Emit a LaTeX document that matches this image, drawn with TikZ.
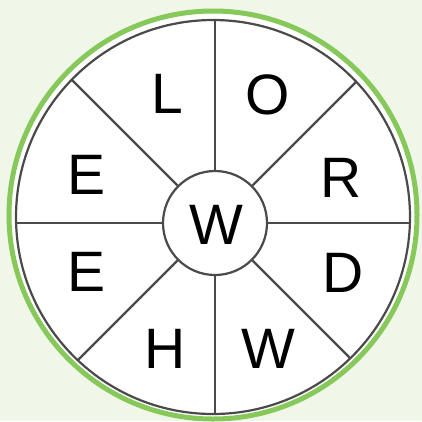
\documentclass[tikz,border=0pt]{standalone}
\usepackage{fontspec}
\setmainfont{Liberation Sans}
\usetikzlibrary{calc}
\definecolor{bgc}{HTML}{F0F7E9}
\definecolor{ringc}{HTML}{86C95A}
\definecolor{linec}{HTML}{4A4A4A}
\begin{document}
\begin{tikzpicture}[x=1pt,y=-1pt,
  letter/.style={font=\fontsize{57}{57}\selectfont, text=black, inner sep=0pt, anchor=center},
  seg/.style={draw=linec, line width=2.2pt}]
\useasboundingbox (0,0) rectangle (422,421);
\fill[bgc] (0,0) rectangle (422,421);
\fill[white, draw=ringc, line width=5pt] (213,215) circle (204);
\draw[linec, line width=2.2pt] (213,217) circle (197);
\node[draw=linec, line width=2.2pt, circle, minimum size=104pt, inner sep=0pt, fill=white] (hub) at (215,223) {};
\node[letter] (w0) at (216,225) {W};
\foreach \a in {0,45,...,315} {
  \coordinate (o\a) at ($(215,223)+(-\a:215)$);
}
\begin{scope}
  \clip (213,217) circle (197);
  \foreach \a in {0,45,...,315} {
    \draw[seg] (hub.\a) -- (o\a);
  }
\end{scope}
\node[letter] (l1) at (167,94) {L};
\node[letter] (l2) at (268,95) {O};
\node[letter] (l3) at (341,178) {R};
\node[letter] (l4) at (343,273) {D};
\node[letter] (l5) at (268,349) {W};
\node[letter] (l6) at (165,349) {H};
\node[letter] (l7) at (87,272) {E};
\node[letter] (l8) at (87,175) {E};
\end{tikzpicture}
\end{document}
